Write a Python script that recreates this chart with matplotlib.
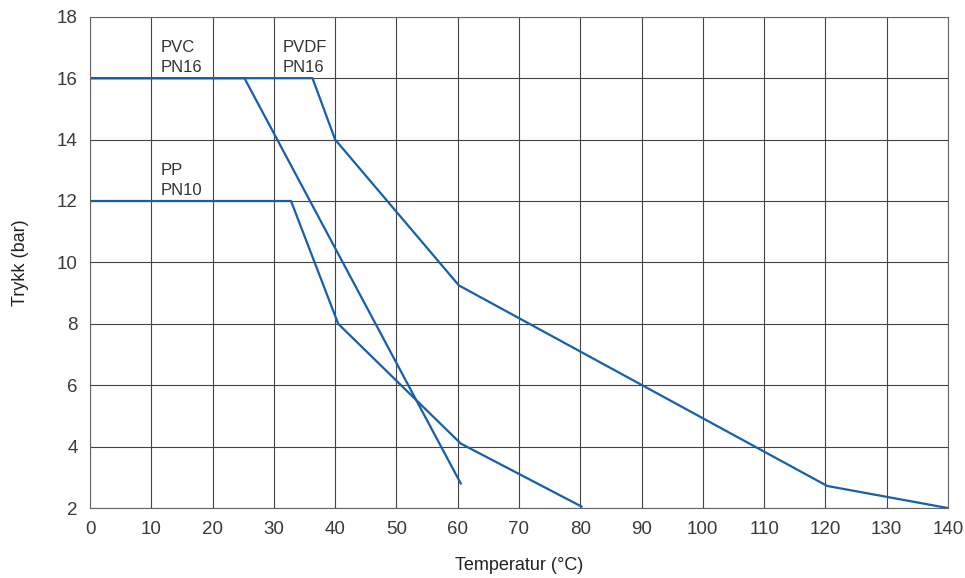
import numpy as np
import matplotlib
matplotlib.use("Agg")
import matplotlib.pyplot as plt

plt.rcParams['font.family'] = ['Liberation Sans', 'DejaVu Sans']

# Trykk/temperatur-kurver
pvc_t = [0, 25.2, 60.5]
pvc_p = [16, 16, 2.8]

pp_t = [0, 32.8, 40.5, 60.5, 80.2]
pp_p = [12, 12, 8.0, 4.1, 2.05]

pvdf_t = [0, 36.3, 40.0, 60.2, 120.3, 140]
pvdf_p = [16, 16, 14.0, 9.25, 2.72, 2.0]

labels = [("PVC\nPN16", 11.5, 16.1), ("PVDF\nPN16", 31.5, 16.1), ("PP\nPN10", 11.5, 12.1)]

farge = "#1560a8"

fig = plt.figure(figsize=(9.65, 5.78), dpi=100)
ax = fig.add_axes([0.0933, 0.121, 0.889, 0.850])

ax.plot(pvc_t, pvc_p, color=farge, lw=1.6)
ax.plot(pp_t, pp_p, color=farge, lw=1.6)
ax.plot(pvdf_t, pvdf_p, color=farge, lw=1.6)

for tekst, x, y in labels:
    ax.text(x, y, tekst, fontsize=12, color="#333333", va="bottom", ha="left", linespacing=1.45)

ax.set_xlim(0, 140)
ax.set_ylim(2, 18)
ax.set_xticks(np.arange(0, 141, 10))
ax.set_yticks(np.arange(2, 19, 2))
ax.grid(True, color="#444444", lw=0.8)
ax.tick_params(length=0, labelsize=13.5, colors="#3a3a3a", pad=9)
for s in ax.spines.values():
    s.set_color("#666666")
    s.set_linewidth(0.8)

ax.set_xlabel("Temperatur (°C)", fontsize=13, color="#222222", labelpad=14)
ax.set_ylabel("Trykk (bar)", fontsize=13, color="#222222", labelpad=20)

fig.savefig("out.png", dpi=100)
